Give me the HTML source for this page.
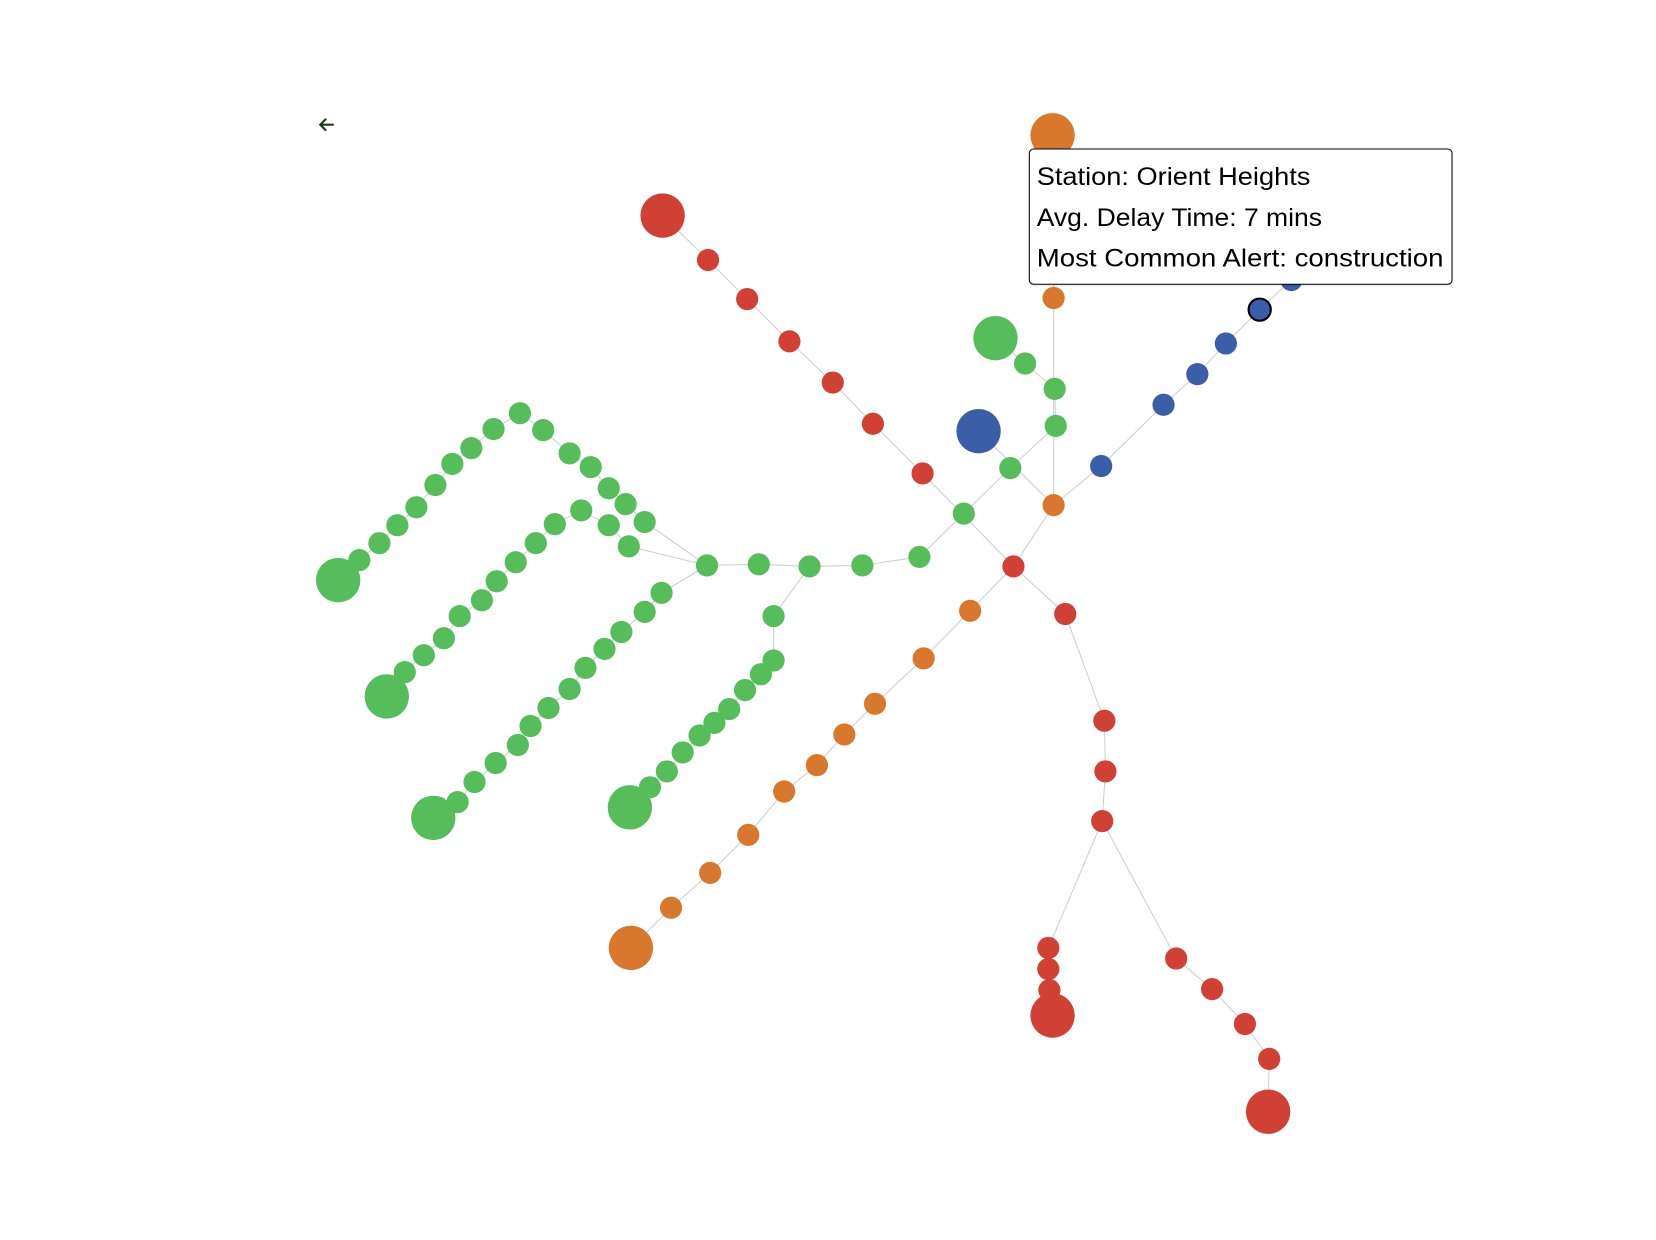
<!DOCTYPE html>
<html><head><meta charset="utf-8"><style>
html,body{margin:0;padding:0;background:#fff;width:1656px;height:1240px;overflow:hidden}
svg{display:block}
</style></head><body>
<svg width="1656" height="1240" viewBox="0 0 1567 1173.4" xmlns="http://www.w3.org/2000/svg">
<g stroke="#cfcfcf" stroke-width="1" fill="none">
<polyline points="627,204 670,246 707,283 747,323 788,362 826,401 873,448 959,536 1008,581 1045,682 1046,730 1043,777 992,897 992,917 993,937 996,961"/>
<polyline points="1043,777 1113,907 1147,936 1178,969 1201,1002 1200,1052"/>
<polyline points="996,128 997,282 997,478 959,536 918,578 874,623 828,666 799,695 773,724 742,749 708,790 672,826 635,859 597,897"/>
<polyline points="997,478 1042,441 1101,383 1133,354 1160,325 1192,293 1222,265 1250,240"/>
<polyline points="926,408 997,478"/>
<polyline points="942,320 970,344 998,368 999,403 956,443 912,486 870,527 816,535 766,536 718,534 669,535"/>
<polyline points="766,536 732,583 732,625 720,638 705,653 690,671 676,684 662,696 646,712 631,730 615,745 596,764"/>
<polyline points="669,535 626,561 610,579 588,598 572,614 554,632 539,652 519,670 502,687 490,705 469,722 449,740 433,759 410,774"/>
<polyline points="669,535 595,517 576,497 550,483 525,496 507,514 488,532 470,550 456,568 435,583 420,604 401,620 383,636 366,659"/>
<polyline points="669,535 610,494 592,477 576,462 559,442 539,429 514,407 492,391 467,406 446,424 428,439 412,459 394,480 376,497 359,514 340,530 320,549"/>
</g>
<g fill="#d04035">
<circle cx="627" cy="204" r="21"/>
<circle cx="670" cy="246" r="10.5"/><circle cx="707" cy="283" r="10.5"/><circle cx="747" cy="323" r="10.5"/><circle cx="788" cy="362" r="10.5"/><circle cx="826" cy="401" r="10.5"/><circle cx="873" cy="448" r="10.5"/><circle cx="959" cy="536" r="10.5"/><circle cx="1008" cy="581" r="10.5"/><circle cx="1045" cy="682" r="10.5"/><circle cx="1046" cy="730" r="10.5"/><circle cx="1043" cy="777" r="10.5"/><circle cx="992" cy="897" r="10.5"/><circle cx="992" cy="917" r="10.5"/><circle cx="993" cy="937" r="10.5"/><circle cx="996" cy="961" r="21"/>
<circle cx="1113" cy="907" r="10.5"/><circle cx="1147" cy="936" r="10.5"/><circle cx="1178" cy="969" r="10.5"/><circle cx="1201" cy="1002" r="10.5"/><circle cx="1200" cy="1052" r="21"/>
</g>
<g fill="#d9782d">
<circle cx="996" cy="128" r="21"/><circle cx="997" cy="282" r="10.5"/><circle cx="997" cy="478" r="10.5"/><circle cx="918" cy="578" r="10.5"/><circle cx="874" cy="623" r="10.5"/><circle cx="828" cy="666" r="10.5"/><circle cx="799" cy="695" r="10.5"/><circle cx="773" cy="724" r="10.5"/><circle cx="742" cy="749" r="10.5"/><circle cx="708" cy="790" r="10.5"/><circle cx="672" cy="826" r="10.5"/><circle cx="635" cy="859" r="10.5"/><circle cx="597" cy="897" r="21"/>
</g>
<g fill="#3a5ea8">
<circle cx="926" cy="408" r="21"/><circle cx="1042" cy="441" r="10.5"/><circle cx="1101" cy="383" r="10.5"/><circle cx="1133" cy="354" r="10.5"/><circle cx="1160" cy="325" r="10.5"/><circle cx="1222" cy="265" r="10.5"/>
<circle cx="1192" cy="293" r="10.5" stroke="#000" stroke-width="2"/>
</g>
<g fill="#55bd5a">
<circle cx="942" cy="320" r="21"/><circle cx="970" cy="344" r="10.5"/><circle cx="998" cy="368" r="10.5"/><circle cx="999" cy="403" r="10.5"/><circle cx="956" cy="443" r="10.5"/><circle cx="912" cy="486" r="10.5"/><circle cx="870" cy="527" r="10.5"/><circle cx="816" cy="535" r="10.5"/><circle cx="766" cy="536" r="10.5"/><circle cx="718" cy="534" r="10.5"/><circle cx="669" cy="535" r="10.5"/>
<circle cx="732" cy="583" r="10.5"/><circle cx="732" cy="625" r="10.5"/><circle cx="720" cy="638" r="10.5"/><circle cx="705" cy="653" r="10.5"/><circle cx="690" cy="671" r="10.5"/><circle cx="676" cy="684" r="10.5"/><circle cx="662" cy="696" r="10.5"/><circle cx="646" cy="712" r="10.5"/><circle cx="631" cy="730" r="10.5"/><circle cx="615" cy="745" r="10.5"/><circle cx="596" cy="764" r="21"/>
<circle cx="626" cy="561" r="10.5"/><circle cx="610" cy="579" r="10.5"/><circle cx="588" cy="598" r="10.5"/><circle cx="572" cy="614" r="10.5"/><circle cx="554" cy="632" r="10.5"/><circle cx="539" cy="652" r="10.5"/><circle cx="519" cy="670" r="10.5"/><circle cx="502" cy="687" r="10.5"/><circle cx="490" cy="705" r="10.5"/><circle cx="469" cy="722" r="10.5"/><circle cx="449" cy="740" r="10.5"/><circle cx="433" cy="759" r="10.5"/><circle cx="410" cy="774" r="21"/>
<circle cx="595" cy="517" r="10.5"/><circle cx="576" cy="497" r="10.5"/><circle cx="550" cy="483" r="10.5"/><circle cx="525" cy="496" r="10.5"/><circle cx="507" cy="514" r="10.5"/><circle cx="488" cy="532" r="10.5"/><circle cx="470" cy="550" r="10.5"/><circle cx="456" cy="568" r="10.5"/><circle cx="435" cy="583" r="10.5"/><circle cx="420" cy="604" r="10.5"/><circle cx="401" cy="620" r="10.5"/><circle cx="383" cy="636" r="10.5"/><circle cx="366" cy="659" r="21"/>
<circle cx="610" cy="494" r="10.5"/><circle cx="592" cy="477" r="10.5"/><circle cx="576" cy="462" r="10.5"/><circle cx="559" cy="442" r="10.5"/><circle cx="539" cy="429" r="10.5"/><circle cx="514" cy="407" r="10.5"/><circle cx="492" cy="391" r="10.5"/><circle cx="467" cy="406" r="10.5"/><circle cx="446" cy="424" r="10.5"/><circle cx="428" cy="439" r="10.5"/><circle cx="412" cy="459" r="10.5"/><circle cx="394" cy="480" r="10.5"/><circle cx="376" cy="497" r="10.5"/><circle cx="359" cy="514" r="10.5"/><circle cx="340" cy="530" r="10.5"/><circle cx="320" cy="549" r="21"/>
</g>
<path d="M315,118 L303,118 M308,113 L303,118 L308,123" stroke="#1a3a1a" stroke-width="2" fill="none" stroke-linecap="round"/>
<rect x="975" y="143" width="399" height="128" rx="4" fill="#000" opacity="0.08"/>
<rect x="974" y="141" width="400" height="128" rx="4" fill="#fff" stroke="#000" stroke-width="1"/>
<g font-family="Liberation Sans, sans-serif" font-size="23.5" fill="#000">
<text x="981" y="175" textLength="259" lengthAdjust="spacingAndGlyphs">Station: Orient Heights</text>
<text x="981" y="214" textLength="270" lengthAdjust="spacingAndGlyphs">Avg. Delay Time: 7 mins</text>
<text x="981" y="252" textLength="385" lengthAdjust="spacingAndGlyphs">Most Common Alert: construction</text>
</g>
</svg>
</body></html>
